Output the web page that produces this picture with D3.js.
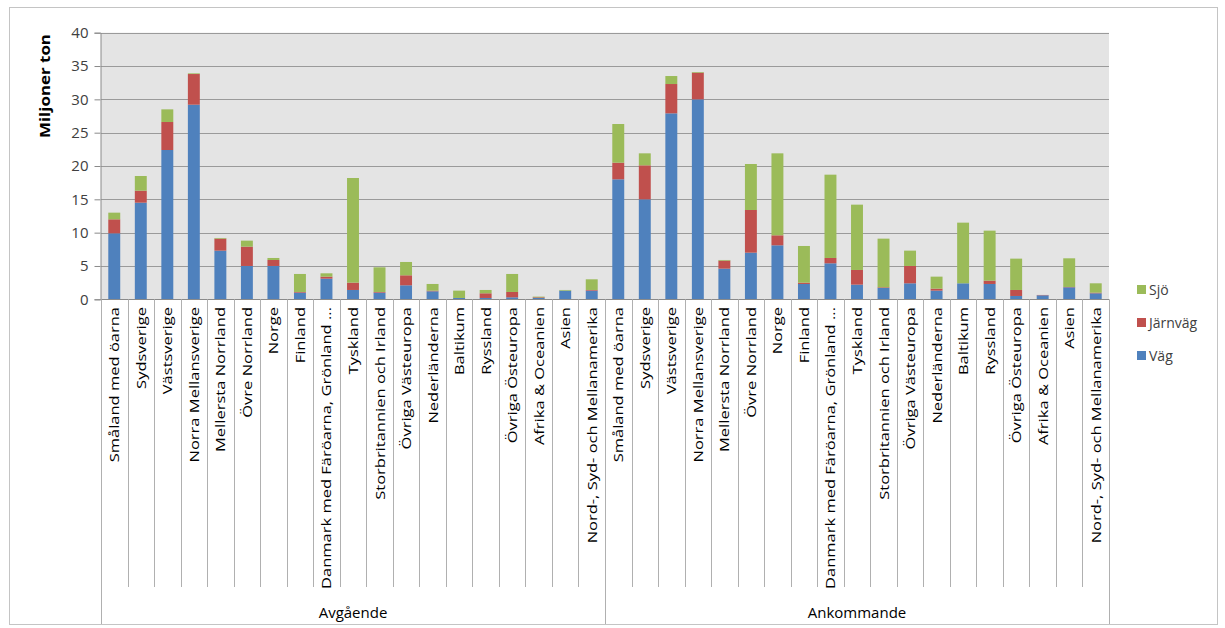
<!DOCTYPE html>
<html>
<head>
<meta charset="utf-8">
<script src="https://cdn.jsdelivr.net/npm/d3@7"></script>
<style>
  body { margin: 0; background: #fff; }
  svg { display: block; font-family: "Open Sans", "Liberation Sans", sans-serif; }
</style>
</head>
<body>
<div id="chart"></div>
<script>
// groups and categories
var groups = ["Avgående", "Ankommande"];
var categories = ["Småland med öarna", "Sydsverige", "Västsverige", "Norra Mellansverige",
  "Mellersta Norrland", "Övre Norrland", "Norge", "Finland", "Danmark med Färöarna, Grönland ...",
  "Tyskland", "Storbritannien och Irland", "Övriga Västeuropa", "Nederländerna", "Baltikum",
  "Ryssland", "Övriga Östeuropa", "Afrika & Oceanien", "Asien", "Nord-, Syd- och Mellanamerika"];
var seriesNames = ["Väg", "Järnväg", "Sjö"];

// million tonnes
var vagAvg   = [9.9, 14.5, 22.4, 29.2, 7.3, 5.0, 5.0, 1.0, 3.1, 1.4, 1.0, 2.1, 1.2, 0.2, 0.2, 0.3, 0.2, 1.3, 1.3];
var jarnAvg  = [2.1, 1.8, 4.2, 4.6, 1.8, 2.9, 0.9, 0.1, 0.3, 1.1, 0.1, 1.5, 0.1, 0.0, 0.7, 0.8, 0.1, 0.0, 0.1];
var sjoAvg   = [1.0, 2.2, 1.9, 0.1, 0.1, 0.9, 0.3, 2.7, 0.5, 15.7, 3.7, 2.0, 1.0, 1.1, 0.5, 2.7, 0.1, 0.1, 1.6];
var vagAnk   = [18.0, 15.0, 27.9, 30.0, 4.6, 7.0, 8.1, 2.3, 5.4, 2.2, 1.7, 2.4, 1.3, 2.4, 2.3, 0.5, 0.6, 1.8, 0.9];
var jarnAnk  = [2.5, 5.1, 4.4, 4.0, 1.2, 6.4, 1.5, 0.2, 0.8, 2.2, 0.1, 2.6, 0.3, 0.0, 0.5, 0.9, 0.05, 0.05, 0.1];
var sjoAnk   = [5.8, 1.8, 1.2, 0.1, 0.1, 6.9, 12.3, 5.5, 12.5, 9.8, 7.3, 2.3, 1.8, 9.1, 7.5, 4.7, 0.0, 4.3, 1.4];
var yTicks = [0, 5, 10, 15, 20, 25, 30, 35, 40];

var colors = {"Väg": "#4f81bd", "Järnväg": "#c0504d", "Sjö": "#9bbb59"};

var W = 1225, H = 628;
var plotLeft = 101, plotRight = 1109, plotTop = 32.7, plotBottom = 299.3;

// build rows
var rows = [];
groups.forEach(function(g, gi){
  var v = gi == 0 ? vagAvg : vagAnk;
  var j = gi == 0 ? jarnAvg : jarnAnk;
  var s = gi == 0 ? sjoAvg : sjoAnk;
  for (var i = 0; i < categories.length; i++) {
    rows.push({group: g, cat: categories[i], "Väg": v[i], "Järnväg": j[i], "Sjö": s[i]});
  }
});

var svg = d3.select("#chart").append("svg")
  .attr("width", W).attr("height", H);

// outer border
svg.append("rect")
  .attr("x", 9.5).attr("y", 7.5).attr("width", 1208).attr("height", 617)
  .attr("fill", "none").attr("stroke", "#c4c4c4");

var x0 = d3.scaleBand().domain(groups).range([plotLeft, plotRight]);
var x1 = d3.scaleBand().domain(categories).range([0, x0.bandwidth()])
  .paddingInner(0.55).paddingOuter(0.275);
var y = d3.scaleLinear().domain([0, 40]).range([plotBottom, plotTop]);

// plot background
svg.append("rect")
  .attr("x", plotLeft).attr("y", y(40)).attr("width", plotRight - plotLeft).attr("height", y(0) - y(40))
  .attr("fill", "#e4e4e4");

// gridlines
svg.append("g").selectAll("line")
  .data(yTicks.filter(function(d){ return d > 0; }))
  .enter().append("line")
  .attr("x1", plotLeft).attr("x2", plotRight)
  .attr("y1", function(d){ return Math.round(y(d)) + 0.5; })
  .attr("y2", function(d){ return Math.round(y(d)) + 0.5; })
  .attr("stroke", "#9a9a9a").attr("stroke-width", 1.2);

// y axis
var yAxis = svg.append("g")
  .attr("transform", "translate(" + (plotLeft - 0.5) + ",0)")
  .call(d3.axisLeft(y).tickValues(yTicks).tickSize(6).tickPadding(6));
yAxis.select(".domain").attr("stroke", "#8a8a8a");
yAxis.selectAll(".tick line").attr("stroke", "#8a8a8a");
yAxis.selectAll(".tick text")
  .attr("font-family", "Open Sans, sans-serif")
  .attr("font-size", 15).attr("fill", "#404040");

svg.append("text")
  .attr("transform", "translate(50," + 86 + ") rotate(-90)")
  .attr("text-anchor", "middle")
  .attr("font-size", 14).attr("font-weight", "bold").attr("fill", "#000")
  .attr("textLength", 104).attr("lengthAdjust", "spacingAndGlyphs")
  .text("Miljoner ton");

// stacked bars
var stack = d3.stack().keys(seriesNames);
var stacked = stack(rows);

svg.append("g").selectAll("g")
  .data(stacked)
  .enter().append("g")
  .attr("fill", function(d){ return colors[d.key]; })
  .selectAll("rect")
  .data(function(d){ return d; })
  .enter().append("rect")
  .attr("x", function(d){ return x0(d.data.group) + x1(d.data.cat); })
  .attr("width", x1.bandwidth())
  .attr("y", function(d){ return y(d[1]); })
  .attr("height", function(d){ return Math.max(0, y(d[0]) - y(d[1])); });

// x axis line
svg.append("line")
  .attr("x1", plotLeft).attr("x2", plotRight)
  .attr("y1", Math.round(plotBottom) + 0.5).attr("y2", Math.round(plotBottom) + 0.5)
  .attr("stroke", "#8a8a8a");

// category separators
var step = x1.step();
var sep = svg.append("g").attr("stroke", "#b0b0b0");
groups.forEach(function(g){
  categories.forEach(function(c, i){
    var xb = Math.round(x0(g) + x1(c) + x1.bandwidth() / 2 - step / 2) + 0.5;
    sep.append("line")
      .attr("x1", xb).attr("x2", xb)
      .attr("y1", plotBottom).attr("y2", i == 0 ? 624 : 587);
  });
});
sep.append("line")
  .attr("x1", plotRight + 0.5).attr("x2", plotRight + 0.5)
  .attr("y1", plotBottom).attr("y2", 624);

// category labels
var labels = svg.append("g");
rows.forEach(function(r){
  var cx = x0(r.group) + x1(r.cat) + x1.bandwidth() / 2;
  labels.append("text")
    .attr("transform", "translate(" + (cx + 5) + ",307) rotate(-90) scale(1.27,1)")
    .attr("text-anchor", "end")
    .attr("font-size", 13).attr("fill", "#000")
    .text(r.cat);
});

// group labels
groups.forEach(function(g){
  svg.append("text")
    .attr("x", x0(g) + x0.bandwidth() / 2).attr("y", 618)
    .attr("text-anchor", "middle")
    .attr("font-size", 15).attr("fill", "#000")
    .text(g);
});

// legend
var legendOrder = ["Sjö", "Järnväg", "Väg"];
var lg = svg.append("g").attr("transform", "translate(1137,285)");
legendOrder.forEach(function(k, i){
  var row = lg.append("g").attr("transform", "translate(0," + (i * 33) + ")");
  row.append("rect").attr("x", 0).attr("y", 0).attr("width", 9).attr("height", 9)
    .attr("fill", colors[k]);
  row.append("text").attr("x", 12).attr("y", 10)
    .attr("font-size", 14).attr("fill", "#404040")
    .text(k);
});
</script>
</body>
</html>
